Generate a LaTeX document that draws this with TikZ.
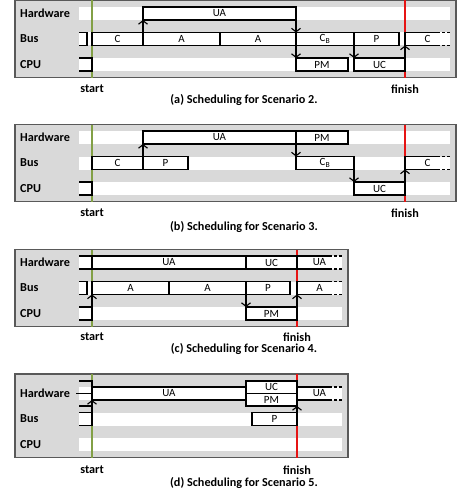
\documentclass[tikz,border=0pt]{standalone}
\usepackage{fontspec}
\setmainfont{Carlito}
\usetikzlibrary{arrows.meta}
\definecolor{panelgray}{RGB}{217,217,217}
\definecolor{edgegray}{RGB}{89,89,89}
\definecolor{startgreen}{RGB}{130,160,70}
\definecolor{finishred}{RGB}{230,20,20}

\tikzset{
  task/.style={draw, line width=1.1pt, fill=white, inner sep=0pt, outer sep=0pt,
    minimum height=13pt, font=\fontsize{11}{12}\selectfont},
  opentask/.style={inner sep=0pt, font=\fontsize{11}{12}\selectfont},
  sig/.style={line width=1.1pt, -{Straight Barb[width=9pt,length=3.5pt,line width=1.1pt]}},
  stub/.style={line width=1.1pt},
  dots/.style={line width=1.1pt, dash pattern=on 3pt off 2pt},
  lbl/.style={inner sep=0pt, font=\fontsize{12.2}{13}\selectfont\bfseries},
  panel/.style={fill=panelgray, draw=edgegray, line width=1.2pt},
}

\begin{document}
\begin{tikzpicture}[x=1pt,y=-1pt]
\useasboundingbox (0,0) rectangle (456,495);

%%% (a) scenario 2
\begin{scope}[yshift=-0.5pt]
\draw[panel] (15,0) rectangle (456,77);
\foreach \r in {13,38.5,64}
  \fill[white] (79,\r-6.5) rectangle (450,\r+6.5);
\node[lbl,anchor=west] (aHW) at (20,13) {Hardware};
\node[lbl,anchor=west] (aBus) at (20,38.5) {Bus};
\node[lbl,anchor=west] (aCPU) at (20,64) {CPU};
\draw[startgreen,line width=1.2pt] (92,0) -- (92,77);
\draw[finishred,line width=1.2pt] (405,0) -- (405,77);
\foreach \n/\a/\b/\r/\t in {aUA/143/296/13/UA, aC/92/143/38.5/C, aA1/143/220/38.5/A,
    aA2/220/296/38.5/A, aCB/296/354/38.5/{C\textsubscript{B}}, aP/354/399/38.5/P,
    aPM/296/348/64/PM, aUC/354/405/64/UC}
  \node[task, minimum width={(\b-\a)*1pt}] (\n) at ({(\a+\b)/2},\r) {\t};
% leftovers from the previous period
\draw[stub] (79,32) -- (87,32) -- (87,45) -- (79,45);
\draw[stub] (79,57.5) -- (92,57.5) -- (92,70.5) -- (79,70.5);
% next period
\coordinate (aNext) at (405,45);
\draw[stub] (437,32) -- (405,32) -- (aNext) -- (437,45);
\draw[dots] (437,32) -- (450,32) (437,45) -- (450,45);
\node[opentask] (aCn) at (427.5,38.5) {C};
\draw[sig] (aC.north east) -- (aUA.south west);
\draw[sig] (aUA.south east) -- (aCB.north west);
\draw[sig] (aA2.south east) -- (aPM.north west);
\draw[sig] (aCB.south east) -- (aUC.north west);
\draw[sig] (aUC.north east) -- (aNext);
\node[lbl] (aStart) at (92,88.5) {start};
\node[lbl] (aFinish) at (405,88.5) {finish};
\node[lbl] (aCap) at (244,99.5) {(a) Scheduling for Scenario 2.};
\end{scope}

%%% (b) scenario 3
\begin{scope}[yshift=-124.5pt]
\draw[panel] (15,0) rectangle (456,77);
\foreach \r in {13,38.5,64}
  \fill[white] (79,\r-6.5) rectangle (450,\r+6.5);
\node[lbl,anchor=west] (bHW) at (20,13) {Hardware};
\node[lbl,anchor=west] (bBus) at (20,38.5) {Bus};
\node[lbl,anchor=west] (bCPU) at (20,64) {CPU};
\draw[startgreen,line width=1.2pt] (92,0) -- (92,77);
\draw[finishred,line width=1.2pt] (405,0) -- (405,77);
\foreach \n/\a/\b/\r/\t in {bUA/143/296/13/UA, bPM/296/348/13/PM, bC/92/143/38.5/C,
    bP/143/188/38.5/P, bCB/296/354/38.5/{C\textsubscript{B}}, bUC/354/405/64/UC}
  \node[task, minimum width={(\b-\a)*1pt}] (\n) at ({(\a+\b)/2},\r) {\t};
\draw[stub] (79,57.5) -- (92,57.5) -- (92,70.5) -- (79,70.5);
\coordinate (bNext) at (405,45);
\draw[stub] (437,32) -- (405,32) -- (bNext) -- (437,45);
\draw[dots] (437,32) -- (450,32) (437,45) -- (450,45);
\node[opentask] (bCn) at (427.5,38.5) {C};
\draw[sig] (bC.north east) -- (bUA.south west);
\draw[sig] (bUA.south east) -- (bCB.north west);
\draw[sig] (bCB.south east) -- (bUC.north west);
\draw[sig] (bUC.north east) -- (bNext);
\node[lbl] (bStart) at (92,88.5) {start};
\node[lbl] (bFinish) at (405,88.5) {finish};
\node[lbl] (bCap) at (244,102.5) {(b) Scheduling for Scenario 3.};
\end{scope}

%%% (c) scenario 4
\begin{scope}[yshift=-249.5pt]
\draw[panel] (15,0) rectangle (348,77);
\foreach \r in {13,38.5,64}
  \fill[white] (79,\r-6.5) rectangle (342,\r+6.5);
\node[lbl,anchor=west] (cHW) at (20,13) {Hardware};
\node[lbl,anchor=west] (cBus) at (20,38.5) {Bus};
\node[lbl,anchor=west] (cCPU) at (20,64) {CPU};
\draw[startgreen,line width=1.2pt] (92,0) -- (92,77);
\draw[finishred,line width=1.2pt] (297,0) -- (297,77);
\foreach \n/\a/\b/\r/\t in {cUA/92/246/13/UA, cUC/246/297/13/UC, cA1/92/169/38.5/A,
    cA2/169/246/38.5/A, cP/246/290/38.5/P, cPM/246/297/64/PM}
  \node[task, minimum width={(\b-\a)*1pt}] (\n) at ({(\a+\b)/2},\r) {\t};
\draw[stub] (79,6.5) -- (92,6.5) (79,19.5) -- (92,19.5);
\draw[stub] (79,32) -- (87,32) -- (87,45) -- (79,45);
\coordinate (cIn) at (92,57.5);
\draw[stub] (79,57.5) -- (cIn) -- (92,70.5) -- (79,70.5);
\coordinate (cNext) at (297,45);
\draw[stub] (329,6.5) -- (297,6.5) -- (297,19.5) -- (329,19.5);
\draw[stub] (329,32) -- (297,32) -- (cNext) -- (329,45);
\draw[dots] (329,6.5) -- (342,6.5) (329,19.5) -- (342,19.5)
  (329,32) -- (342,32) (329,45) -- (342,45);
\node[opentask] (cUAn) at (319.5,13) {UA};
\node[opentask] (cAn) at (319.5,38.5) {A};
\draw[sig] (cIn) -- (cA1.south west);
\draw[sig] (cA2.south east) -- (cPM.north west);
\draw[sig] (cPM.north east) -- (cNext);
\node[lbl] (cStart) at (92,87.5) {start};
\node[lbl] (cFinish) at (297,87.5) {finish};
\node[lbl] (cCap) at (244,99.5) {(c) Scheduling for Scenario 4.};
\end{scope}

%%% (d) scenario 5
\begin{scope}[yshift=-380.5pt]
\draw[panel] (15,-6.5) rectangle (348,77);
\foreach \r in {13,38.5,64}
  \fill[white] (79,\r-6.5) rectangle (342,\r+6.5);
\node[lbl,anchor=west] (dHW) at (20,13) {Hardware};
\node[lbl,anchor=west] (dBus) at (20,38.5) {Bus};
\node[lbl,anchor=west] (dCPU) at (20,64) {CPU};
\draw[startgreen,line width=1.2pt] (92,-6.5) -- (92,77);
\draw[finishred,line width=1.2pt] (297,-6.5) -- (297,77);
\node[task, minimum width=154pt] (dUA) at (169,13) {UA};
\node[task, minimum width=51pt, minimum height=12.5pt] (dUC) at (271.5,6.75) {UC};
\node[task, minimum width=51pt, minimum height=12.5pt] (dPM) at (271.5,19.25) {PM};
\node[task, minimum width=45pt] (dP) at (274.5,38.5) {P};
% two hardware jobs and a bus job left over
\draw[stub] (79,0.5) -- (92,0.5) -- (92,25.5) -- (79,25.5) (76,13) -- (92,13);
\coordinate (dIn) at (92,32);
\draw[stub] (79,32) -- (dIn) -- (92,45) -- (79,45);
\draw[stub] (329,6.5) -- (297,6.5) -- (297,19.5) -- (329,19.5);
\draw[dots] (329,6.5) -- (342,6.5) (329,19.5) -- (342,19.5);
\node[opentask] (dUAn) at (319.5,13) {UA};
\draw[sig] (dIn) -- (dUA.south west);
\draw[sig] (dP.north east) -- (dPM.south east);
\node[lbl] (dStart) at (92,89.5) {start};
\node[lbl] (dFinish) at (297,89.5) {finish};
\node[lbl] (dCap) at (244,102.5) {(d) Scheduling for Scenario 5.};
\end{scope}
\end{tikzpicture}
\end{document}
